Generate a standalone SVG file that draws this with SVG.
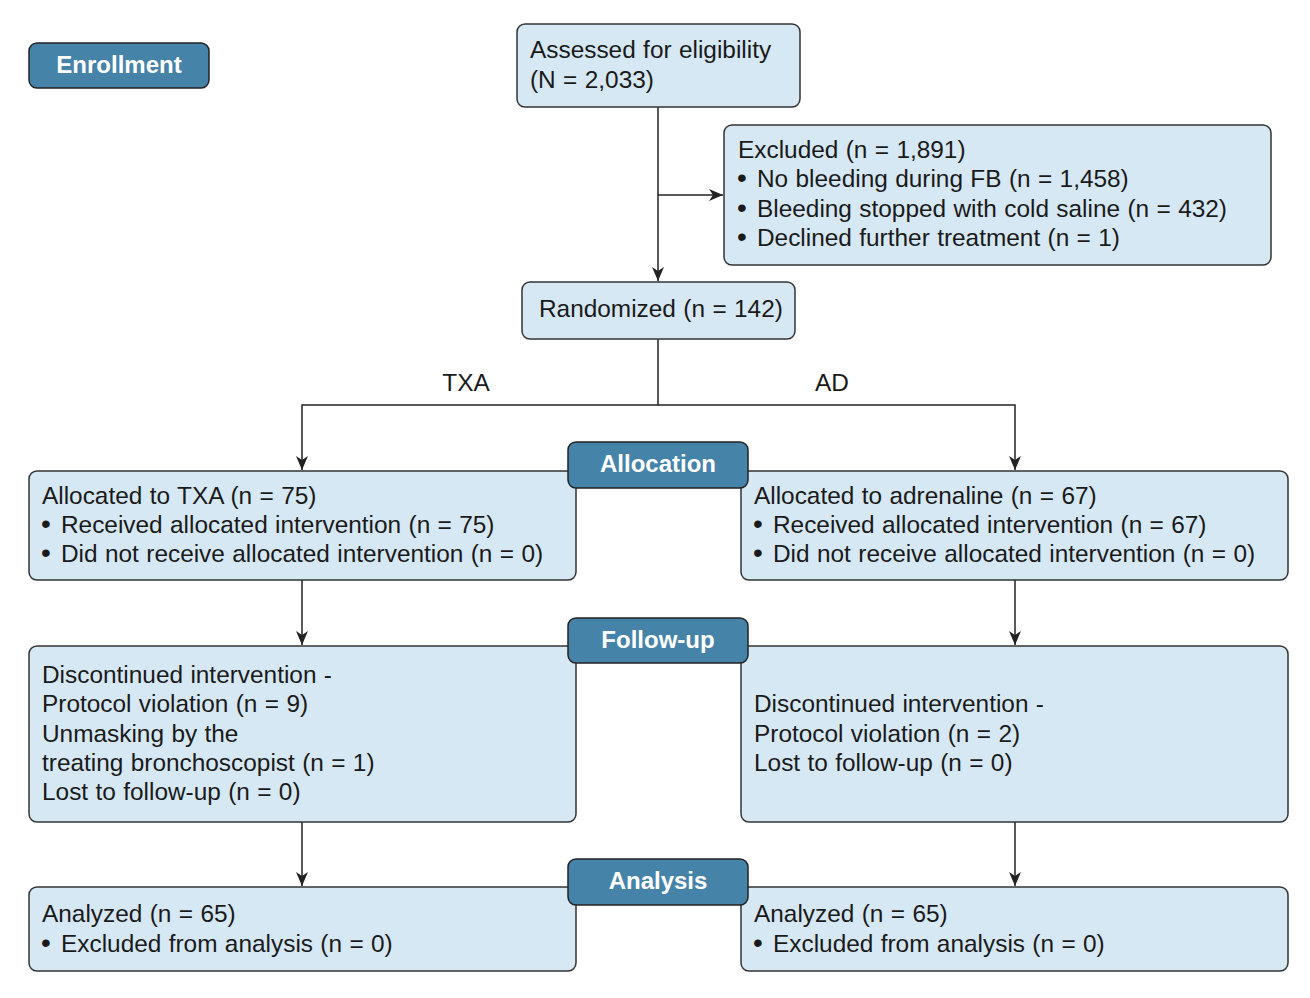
<svg xmlns="http://www.w3.org/2000/svg" width="1310" height="998" viewBox="0 0 1310 998">
<defs>
<marker id="ah" viewBox="0 0 14 12" refX="14" refY="6" markerWidth="14" markerHeight="12" markerUnits="userSpaceOnUse" orient="auto">
<path d="M0,0 L14,6 L0,12 L4,6 Z" fill="#222"/>
</marker>
<style>
.box{fill:#d6e8f4;stroke:#333;stroke-width:1.5}
.lab{fill:#4683a9;stroke:#222;stroke-width:1.5}
.t{font-family:"Liberation Sans",Arial,sans-serif;font-size:24.4px;word-spacing:0.6px;fill:#1a1a1a}
.b{font-size:28px}
.lt{font-family:"Liberation Sans",Arial,sans-serif;font-size:24px;font-weight:bold;fill:#fff;text-anchor:middle}
.c{fill:none;stroke:#222;stroke-width:1.5}
</style>
</defs>
<rect width="1310" height="998" fill="#fff"/>
<g id="connectors">
<path class="c" d="M658,107 V281" marker-end="url(#ah)"/>
<path class="c" d="M658,195 H723" marker-end="url(#ah)"/>
<path class="c" d="M658,339 V405 H302 V470" marker-end="url(#ah)"/>
<path class="c" d="M658,405 H1015 V470" marker-end="url(#ah)"/>
<path class="c" d="M302,580 V645" marker-end="url(#ah)"/>
<path class="c" d="M1015,580 V645" marker-end="url(#ah)"/>
<path class="c" d="M302,822 V886" marker-end="url(#ah)"/>
<path class="c" d="M1015,822 V886" marker-end="url(#ah)"/>
<text class="t" x="466" y="391" text-anchor="middle">TXA</text>
<text class="t" x="832" y="391" text-anchor="middle">AD</text>
</g>
<g id="enrollment">
<rect class="lab" x="29" y="43" width="180" height="45" rx="8"/>
<text class="lt" x="119" y="73">Enrollment</text>
</g>
<g id="assessed">
<rect class="box" x="517" y="24" width="283" height="83" rx="8"/>
<text class="t" x="530" y="58">Assessed for eligibility</text>
<text class="t" x="530" y="88">(N = 2,033)</text>
</g>
<g id="excluded">
<rect class="box" x="724" y="125" width="547" height="140" rx="8"/>
<text class="t" x="738" y="158">Excluded (n = 1,891)</text>
<text class="t" y="187"><tspan class="b" x="737">•</tspan><tspan x="757">No bleeding during FB (n = 1,458)</tspan></text>
<text class="t" y="217"><tspan class="b" x="737">•</tspan><tspan x="757">Bleeding stopped with cold saline (n = 432)</tspan></text>
<text class="t" y="246"><tspan class="b" x="737">•</tspan><tspan x="757">Declined further treatment (n = 1)</tspan></text>
</g>
<g id="randomized">
<rect class="box" x="522" y="282" width="273" height="57" rx="8"/>
<text class="t" x="539" y="317">Randomized (n = 142)</text>
</g>
<g id="alloc-txa">
<rect class="box" x="29" y="471" width="547" height="109" rx="8"/>
<text class="t" x="42" y="504">Allocated to TXA (n = 75)</text>
<text class="t" y="533"><tspan class="b" x="41">•</tspan><tspan x="61">Received allocated intervention (n = 75)</tspan></text>
<text class="t" y="562"><tspan class="b" x="41">•</tspan><tspan x="61">Did not receive allocated intervention (n = 0)</tspan></text>
</g>
<g id="alloc-ad">
<rect class="box" x="741" y="471" width="547" height="109" rx="8"/>
<text class="t" x="754" y="504">Allocated to adrenaline (n = 67)</text>
<text class="t" y="533"><tspan class="b" x="753">•</tspan><tspan x="773">Received allocated intervention (n = 67)</tspan></text>
<text class="t" y="562"><tspan class="b" x="753">•</tspan><tspan x="773">Did not receive allocated intervention (n = 0)</tspan></text>
</g>
<g id="allocation">
<rect class="lab" x="568" y="442" width="180" height="46" rx="8"/>
<text class="lt" x="658" y="472">Allocation</text>
</g>
<g id="fu-txa">
<rect class="box" x="29" y="646" width="547" height="176" rx="8"/>
<text class="t" x="42" y="683">Discontinued intervention -</text>
<text class="t" x="42" y="712">Protocol violation (n = 9)</text>
<text class="t" x="42" y="742">Unmasking by the</text>
<text class="t" x="42" y="771">treating bronchoscopist (n = 1)</text>
<text class="t" x="42" y="800">Lost to follow-up (n = 0)</text>
</g>
<g id="fu-ad">
<rect class="box" x="741" y="646" width="547" height="176" rx="8"/>
<text class="t" x="754" y="712">Discontinued intervention -</text>
<text class="t" x="754" y="742">Protocol violation (n = 2)</text>
<text class="t" x="754" y="771">Lost to follow-up (n = 0)</text>
</g>
<g id="followup">
<rect class="lab" x="568" y="618" width="180" height="45" rx="8"/>
<text class="lt" x="658" y="648">Follow-up</text>
</g>
<g id="an-txa">
<rect class="box" x="29" y="887" width="547" height="84" rx="8"/>
<text class="t" x="42" y="922">Analyzed (n = 65)</text>
<text class="t" y="952"><tspan class="b" x="41">•</tspan><tspan x="61">Excluded from analysis (n = 0)</tspan></text>
</g>
<g id="an-ad">
<rect class="box" x="741" y="887" width="547" height="84" rx="8"/>
<text class="t" x="754" y="922">Analyzed (n = 65)</text>
<text class="t" y="952"><tspan class="b" x="753">•</tspan><tspan x="773">Excluded from analysis (n = 0)</tspan></text>
</g>
<g id="analysis">
<rect class="lab" x="568" y="859" width="180" height="46" rx="8"/>
<text class="lt" x="658" y="889">Analysis</text>
</g>
</svg>
